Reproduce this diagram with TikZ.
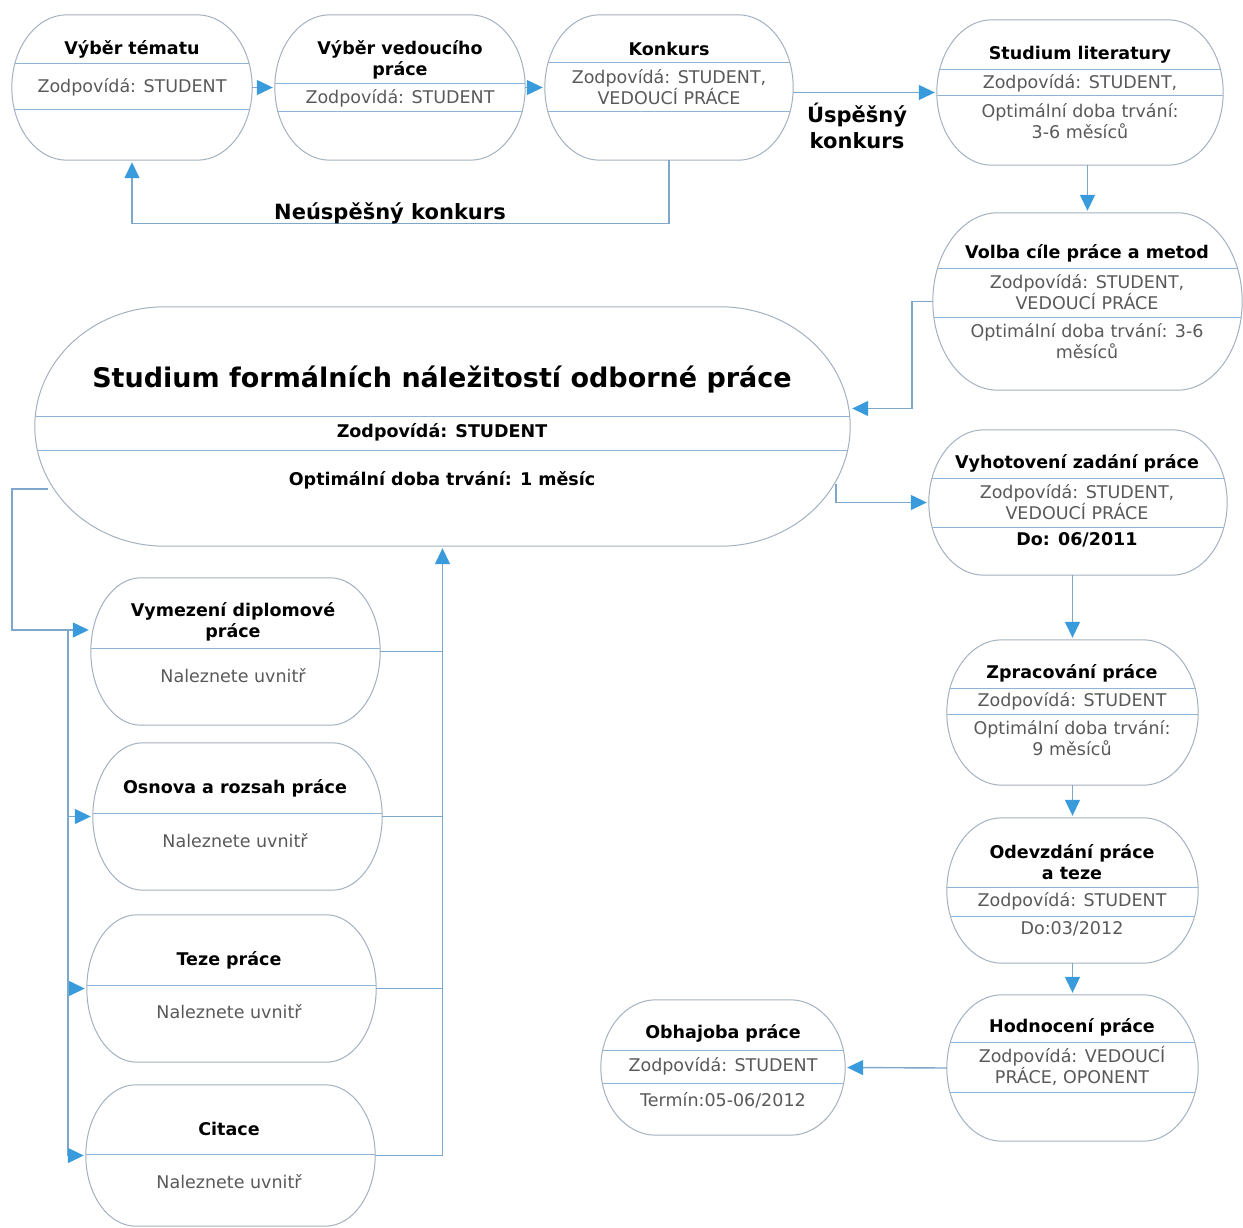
\documentclass[tikz,border=0pt]{standalone}
\usepackage{fontspec}
\setmainfont{DejaVu Sans}
\usetikzlibrary{arrows.meta,calc,positioning}

\definecolor{outl}{HTML}{A3B1BF}
\definecolor{divl}{HTML}{8FB5D6}
\definecolor{conn}{HTML}{7EA7C9}
\definecolor{tipc}{HTML}{3A9BDC}
\definecolor{txtg}{HTML}{595959}

% outline of a stage: straight top and bottom, elliptic ends
\newcommand{\stagepath}[2]{($(#1.north west)+(#2,0)$) -- ($(#1.north east)+(-#2,0)$)
  .. controls ($(#1.north east)+(-0.448*#2,0)$) and ($(#1.east)!0.552!(#1.north east)$) .. (#1.east)
  .. controls ($(#1.east)!0.552!(#1.south east)$) and ($(#1.south east)+(-0.448*#2,0)$) .. ($(#1.south east)+(-#2,0)$)
  -- ($(#1.south west)+(#2,0)$)
  .. controls ($(#1.south west)+(0.448*#2,0)$) and ($(#1.west)!0.552!(#1.south west)$) .. (#1.west)
  .. controls ($(#1.west)!0.552!(#1.north west)$) and ($(#1.north west)+(0.448*#2,0)$) .. ($(#1.north west)+(#2,0)$) -- cycle}
\newcommand{\stagelines}[3]{%
  \begin{scope}
    \clip \stagepath{#1}{#2};
    \foreach \dy in {#3}
      \draw[divider] ($(#1.west)+(0,\dy)$) -- ($(#1.east)+(0,\dy)$);
  \end{scope}
  \draw[outline] \stagepath{#1}{#2};
}

\begin{document}
\begin{tikzpicture}[x=1pt,y=-1pt,
    stage/.style 2 args={minimum width=#1pt, minimum height=#2pt, inner sep=0pt},
    outline/.style={draw=outl, line width=1pt},
    divider/.style={draw=divl, line width=1pt},
    title/.style={font=\bfseries\fontsize{17.5}{21}\selectfont, align=center, inner sep=0pt},
    info/.style={font=\fontsize{17.5}{21}\selectfont, text=txtg, align=center, inner sep=0pt},
    cond/.style={font=\bfseries\fontsize{21}{26}\selectfont, align=center, inner sep=0pt},
    line/.style={draw=conn, line width=1.4pt},
    flow/.style={line, -{Triangle[length=16pt,width=15pt,color=tipc]}, shorten >=2pt}]
  \useasboundingbox (0,0) rectangle (1243,1228);

  % top row
  \node[stage={240}{145}] (vt) at (132,87.5) {};
  \stagelines{vt}{55}{-23.5,22.5}
  \node[title] (vt-t) at (132,49) {Výběr tématu};
  \node[info] (vt-r) at (132,87) {Zodpovídá: STUDENT};

  \node[stage={250}{145}] (vv) at (400,87.5) {};
  \stagelines{vv}{55}{-3.5,24.5}
  \node[title] (vv-t) at (400,59.5) {Výběr vedoucího\\práce};
  \node[info] (vv-r) at (400,98) {Zodpovídá: STUDENT};

  \node[stage={248}{145}] (ko) at (669,87.5) {};
  \stagelines{ko}{55}{-24.5,24.5}
  \node[title] (ko-t) at (669,49) {Konkurs};
  \node[info] (ko-r) at (669,87.5) {Zodpovídá: STUDENT,\\VEDOUCÍ PRÁCE};

  \node[stage={286}{145}] (sl) at (1080,92.5) {};
  \stagelines{sl}{55}{-22.5,3.5}
  \node[title] (sl-t) at (1080,55) {Studium literatury};
  \node[info] (sl-r) at (1080,83) {Zodpovídá: STUDENT,};
  \node[info] (sl-d) at (1080,121) {Optimální doba trvání:\\3-6 měsíců};

  % right column
  \node[stage={309}{177}] (vo) at (1087.5,301.5) {};
  \stagelines{vo}{65}{-33.5,15.5}
  \node[title] (vo-t) at (1087,253) {Volba cíle práce a metod};
  \node[info] (vo-r) at (1087,292) {Zodpovídá: STUDENT,\\VEDOUCÍ PRÁCE};
  \node[info] (vo-d) at (1087,341.5) {Optimální doba trvání: 3-6\\měsíců};

  \node[stage={298}{145}] (vy) at (1078,502.5) {};
  \stagelines{vy}{55}{-24.5,24.5}
  \node[title] (vy-t) at (1077,463) {Vyhotovení zadání práce};
  \node[info] (vy-r) at (1077,502) {Zodpovídá: STUDENT,\\VEDOUCÍ PRÁCE};
  \node[title] (vy-d) at (1077,540) {Do: 06/2011};

  \node[stage={251}{145}] (zp) at (1072.5,712.5) {};
  \stagelines{zp}{55}{-24.5,1.5}
  \node[title] (zp-t) at (1072,673) {Zpracování práce};
  \node[info] (zp-r) at (1072,701) {Zodpovídá: STUDENT};
  \node[info] (zp-d) at (1072,738.5) {Optimální doba trvání:\\9 měsíců};

  \node[stage={251}{145}] (od) at (1072.5,890.5) {};
  \stagelines{od}{55}{-3.5,25.5}
  \node[title] (od-t) at (1072,862.5) {Odevzdání práce\\a teze};
  \node[info] (od-r) at (1072,901) {Zodpovídá: STUDENT};
  \node[info] (od-d) at (1072,929) {Do:03/2012};

  \node[stage={251}{146}] (ho) at (1072.5,1068) {};
  \stagelines{ho}{55}{-26,24}
  \node[title] (ho-t) at (1072,1027) {Hodnocení práce};
  \node[info] (ho-r) at (1072,1065.5) {Zodpovídá: VEDOUCÍ\\PRÁCE, OPONENT};

  \node[stage={244}{135}] (ob) at (723,1067.5) {};
  \stagelines{ob}{55}{-17.5,15.5}
  \node[title] (ob-t) at (723,1033) {Obhajoba práce};
  \node[info] (ob-r) at (723,1066) {Zodpovídá: STUDENT};
  \node[info] (ob-d) at (723,1100) {Termín:05-06/2012};

  % formal requirements
  \node[stage={815}{239}] (fm) at (442.5,426.5) {};
  \stagelines{fm}{130}{-10.5,23.5}
  \node[title, font=\bfseries\fontsize{27}{32}\selectfont] (fm-t) at (442,380) {Studium formálních náležitostí odborné práce};
  \node[title] (fm-r) at (442,432) {Zodpovídá: STUDENT};
  \node[title] (fm-d) at (442,480) {Optimální doba trvání: 1 měsíc};

  \node[stage={289}{147}] (vd) at (235.5,651.5) {};
  \stagelines{vd}{50}{-3.5}
  \node[title] (vd-t) at (233,622) {Vymezení diplomové\\práce};
  \node[info] (vd-n) at (233,676) {Naleznete uvnitř};

  \node[stage={289}{147}] (os) at (237.5,816.5) {};
  \stagelines{os}{50}{-3.5}
  \node[title] (os-t) at (235,788) {Osnova a rozsah práce};
  \node[info] (os-n) at (235,841) {Naleznete uvnitř};

  \node[stage={289}{147}] (tz) at (231.5,988.5) {};
  \stagelines{tz}{50}{-3.5}
  \node[title] (tz-t) at (229,960) {Teze práce};
  \node[info] (tz-n) at (229,1012) {Naleznete uvnitř};

  \node[stage={289}{141}] (ci) at (230.5,1155.5) {};
  \stagelines{ci}{50}{-1.5}
  \node[title] (ci-t) at (229,1129) {Citace};
  \node[info] (ci-n) at (229,1182) {Naleznete uvnitř};

  % connectors
  \draw[flow] (vt.east) -- (vv.west);
  \draw[flow] (vv.east) -- (ko.west);
  \draw[flow] (ko.east |- sl.west) -- (sl.west);
  \node[cond] (uk) at (857,126) {Úspěšný\\konkurs};
  \draw[flow] (ko.south) -- ++(0,63) -| (vt.south);
  \node[cond] (nk) at (390,213) {Neúspěšný konkurs};
  \draw[flow] (vo.north |- sl.south) -- (vo.north);
  \draw[flow] (vo.west) -- ++(-21,0) |- ($(fm.east)+(0,-18)$);
  \coordinate (fm-out) at (836,484);
  \draw[flow] (fm-out) |- (vy.west);
  \draw[flow] (zp.north |- vy.south) -- (zp.north);
  \draw[flow] (zp.south) -- (od.north);
  \draw[flow] (od.south) -- (ho.north);
  \draw[flow] (ho.west) -- (ob.east);

  \coordinate (fm-in) at (48,489);
  \coordinate (fork) at (68,630);
  \draw[flow] (fm-in) -- ++(-36,0) |- ($(vd.west)+(0,-21.5)$);
  \draw[flow] (fork) |- (os.west);
  \draw[flow] (fork) |- (tz.west);
  \draw[flow] (fork) |- (ci.west);
  \draw[line] (vd.east) -- (vd.east -| fm.south);
  \draw[line] (os.east) -- (os.east -| fm.south);
  \draw[line] (tz.east) -- (tz.east -| fm.south);
  \draw[flow] (ci.east) -| (fm.south);
\end{tikzpicture}
\end{document}
